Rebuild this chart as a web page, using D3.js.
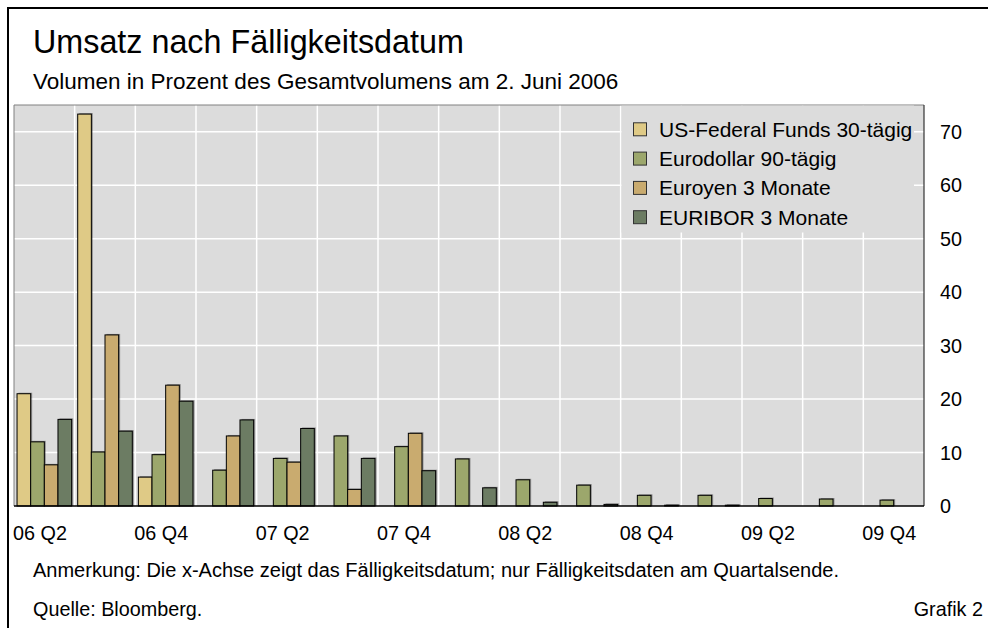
<!DOCTYPE html>
<html><head><meta charset="utf-8">
<script src="https://cdn.jsdelivr.net/npm/d3@7"></script>
<style>
html,body{margin:0;padding:0;background:#fff;}
svg{display:block;font-family:Arial,"Liberation Sans",sans-serif;}
</style></head>
<body>
<svg id="chart" width="988" height="628"></svg>
<script>
const quarters = ["06 Q2","06 Q3","06 Q4","07 Q1","07 Q2","07 Q3","07 Q4","08 Q1","08 Q2","08 Q3","08 Q4","09 Q1","09 Q2","09 Q3","09 Q4"];
const tickLabels = ["06 Q2","06 Q4","07 Q2","07 Q4","08 Q2","08 Q4","09 Q2","09 Q4"];
const seriesNames = ["US-Federal Funds 30-tägig","Eurodollar 90-tägig","Euroyen 3 Monate","EURIBOR 3 Monate"];
const usFedFunds = [21.0, 73.3, 5.4, 0, 0, 0, 0, 0, 0, 0, 0, 0, 0, 0, 0];
const eurodollar = [12.0, 10.1, 9.6, 6.7, 8.9, 13.1, 11.1, 8.8, 4.9, 3.9, 2.0, 2.0, 1.4, 1.3, 1.1];
const euroyen = [7.7, 32.0, 22.6, 13.1, 8.2, 3.1, 13.6, 0, 0, 0, 0, 0, 0, 0, 0];
const euribor = [16.2, 14.0, 19.6, 16.1, 14.5, 8.9, 6.6, 3.4, 0.7, 0.3, 0.15, 0.15, 0, 0, 0];
const yTicks = [0,10,20,30,40,50,60,70];
const colors = ["#dfca86","#9ca76c","#c9ab6f","#6c7c63"];

const seriesValues = [usFedFunds, eurodollar, euroyen, euribor];
const svg = d3.select("#chart");
const L = 14, R = 924, T = 105, B = 506;

const x0 = d3.scaleBand().domain(quarters).range([L, R]).paddingInner(0.1).paddingOuter(0.05);
const x1 = d3.scaleBand().domain(d3.range(4)).range([0, x0.bandwidth()]).padding(0);
const y = d3.scaleLinear().domain([0, 75]).range([B, T]);
const gapHalf = (x0.step() - x0.bandwidth()) / 2;

// outer frame
svg.append("line").attr("x1",8).attr("x2",988).attr("y1",8).attr("y2",8).attr("stroke","#000").attr("stroke-width",2);
svg.append("line").attr("x1",8).attr("x2",8).attr("y1",7).attr("y2",628).attr("stroke","#000").attr("stroke-width",2);

// titles
svg.append("text").attr("x",33).attr("y",53).attr("font-size",32.3).attr("fill","#000").text("Umsatz nach Fälligkeitsdatum");
svg.append("text").attr("x",33).attr("y",89).attr("font-size",22.5).attr("fill","#000").text("Volumen in Prozent des Gesamtvolumens am 2. Juni 2006");

// plot background
svg.append("rect").attr("x",L).attr("y",T).attr("width",R-L).attr("height",B-T).attr("fill","#dcdcdc");

// grid
const grid = svg.append("g");
grid.selectAll("line.h").data(yTicks.filter(d=>d>0)).join("line")
  .attr("x1",L).attr("x2",R).attr("y1",d=>y(d)).attr("y2",d=>y(d))
  .attr("stroke","#fff").attr("stroke-width",1.5);
grid.selectAll("line.v").data(quarters.slice(1)).join("line")
  .attr("x1",d=>x0(d)-gapHalf).attr("x2",d=>x0(d)-gapHalf).attr("y1",T).attr("y2",B)
  .attr("stroke","#fff").attr("stroke-width",1.5);

// plot border
svg.append("line").attr("x1",L).attr("x2",R).attr("y1",T).attr("y2",T).attr("stroke","#808080").attr("stroke-width",1);
svg.append("line").attr("x1",L).attr("x2",L).attr("y1",T).attr("y2",B).attr("stroke","#808080").attr("stroke-width",1);
svg.append("line").attr("x1",R).attr("x2",R).attr("y1",T).attr("y2",B).attr("stroke","#333").attr("stroke-width",1.2);

// legend background
const lg = svg.append("g");
lg.append("rect").attr("x",621.5).attr("y",T+0.5).attr("width",292.5).attr("height",127).attr("fill","#dcdcdc");

// bars
const flat = [];
quarters.forEach((q,i)=>seriesValues.forEach((arr,s)=>{ if(arr[i]>0) flat.push({q, s, v:arr[i]}); }));
const bars = svg.append("g");
bars.selectAll("rect.sh").data(flat).join("rect")
  .attr("x",d=>x0(d.q)+x1(d.s)+1.5).attr("y",d=>y(d.v)-1)
  .attr("width",x1.bandwidth()).attr("height",d=>B-y(d.v)+1)
  .attr("fill","rgba(0,0,0,0.35)");
bars.selectAll("rect.b").data(flat).join("rect")
  .attr("x",d=>x0(d.q)+x1(d.s)).attr("y",d=>y(d.v))
  .attr("width",x1.bandwidth()).attr("height",d=>B-y(d.v))
  .attr("fill",d=>colors[d.s]).attr("stroke","#000").attr("stroke-width",1);

// x axis line
svg.append("line").attr("x1",L).attr("x2",R).attr("y1",B).attr("y2",B).attr("stroke","#000").attr("stroke-width",1.5);

// legend items
const items = lg.selectAll("g.item").data(seriesNames).join("g")
  .attr("transform",(d,i)=>`translate(633,${129.3 + i*29.3})`);
items.append("rect").attr("x",0.5).attr("y",-6.5).attr("width",13).attr("height",13)
  .attr("fill",(d,i)=>colors[i]).attr("stroke","#333").attr("stroke-width",1);
items.append("text").attr("x",26).attr("y",7.5).attr("font-size",21).attr("fill","#000").text(d=>d);

// y axis labels (right)
svg.append("g").selectAll("text").data(yTicks).join("text")
  .attr("x",940).attr("y",d=>y(d)+7).attr("font-size",19.8).attr("fill","#000").text(d=>d);

// x axis labels
svg.append("g").selectAll("text").data(tickLabels).join("text")
  .attr("x",d=>x0(d)-gapHalf-1).attr("y",540).attr("font-size",19.8).attr("fill","#000")
  .attr("text-anchor","start").text(d=>d);

// notes
svg.append("text").attr("x",33).attr("y",577).attr("font-size",20).attr("fill","#000")
  .text("Anmerkung: Die x-Achse zeigt das Fälligkeitsdatum; nur Fälligkeitsdaten am Quartalsende.");
svg.append("text").attr("x",33).attr("y",616).attr("font-size",19.8).attr("fill","#000").text("Quelle: Bloomberg.");
svg.append("text").attr("x",983).attr("y",616).attr("font-size",19.8).attr("fill","#000").attr("text-anchor","end").text("Grafik 2");
</script>
</body></html>
